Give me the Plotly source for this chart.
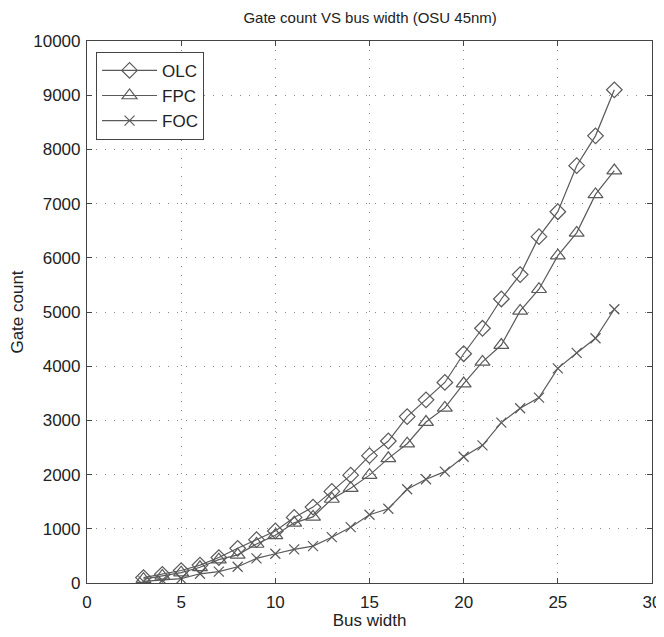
import plotly.graph_objects as go

bus_width = list(range(3, 29))
olc = [100, 160, 230, 330, 470, 640, 800, 960, 1210, 1400, 1690, 1990, 2350, 2620,
       3070, 3380, 3700, 4230, 4700, 5240, 5690, 6390, 6850, 7700, 8250, 9100]
fpc = [70, 130, 190, 290, 430, 520, 720, 880, 1110, 1220, 1550, 1750, 1990, 2300,
       2570, 2970, 3230, 3680, 4080, 4390, 5020, 5420, 6040, 6460, 7170, 7610]
foc = [30, 50, 80, 170, 210, 300, 455, 540, 620, 680, 845, 1030, 1260, 1370,
       1730, 1915, 2055, 2330, 2540, 2960, 3225, 3420, 3960, 4245, 4515, 5050]

x_ticks = [0, 5, 10, 15, 20, 25, 30]
y_ticks = list(range(0, 10001, 1000))
y_tick_labels = [str(v) for v in y_ticks]

line_color = "#5a5a5a"
fig = go.Figure()
series = [("OLC", olc, "diamond-open", 12), ("FPC", fpc, "triangle-up-open", 13), ("FOC", foc, "x-thin-open", 10)]
for name, vals, sym, sz in series:
    fig.add_trace(go.Scatter(
        x=bus_width, y=vals, name=name, mode="lines+markers",
        line=dict(color=line_color, width=1.2),
        marker=dict(symbol=sym, size=sz, color=line_color, line=dict(color=line_color, width=1.2)),
    ))

axis_common = dict(
    showline=True, linecolor="#444444", linewidth=1.2, mirror="ticks",
    ticks="inside", ticklen=5, tickcolor="#444444",
    showgrid=True, gridcolor="#8a8a8a", griddash="1px,8px", gridwidth=1.3,
    zeroline=False, tickfont=dict(size=17, color="#222222"), automargin=False,
)
fig.update_xaxes(range=[0, 30], tickvals=x_ticks, ticklabelstandoff=3,
                 title=dict(text="Bus width", font=dict(size=17, color="#222222"), standoff=2), **axis_common)
fig.update_yaxes(range=[0, 10000], tickvals=y_ticks, ticktext=y_tick_labels, ticklabelstandoff=2,
                 title=dict(text="Gate count", font=dict(size=17, color="#222222"), standoff=7), **axis_common)

fig.update_layout(
    width=656, height=629,
    margin=dict(l=79, r=12, t=33, b=54),
    paper_bgcolor="white", plot_bgcolor="white",
    font=dict(family="Liberation Sans, Arial, sans-serif", color="#222222"),
    title=dict(text="Gate count VS bus width (OSU 45nm)", x=0.552, xanchor="center", y=0.984, yanchor="middle",
               font=dict(size=15, color="#222222")),
    legend=dict(x=0.016, y=0.98, xanchor="left", yanchor="top", bgcolor="white",
                bordercolor="#444444", borderwidth=1, font=dict(size=17, color="#222222"),
                tracegroupgap=0, itemwidth=55),
    showlegend=True,
)
fig.write_html("out.html")
